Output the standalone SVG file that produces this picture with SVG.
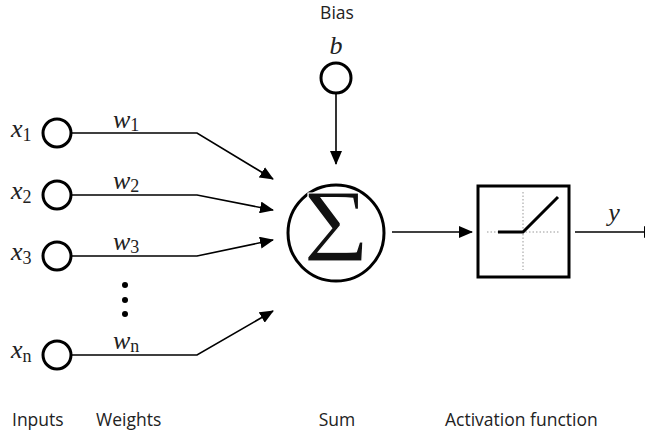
<svg xmlns="http://www.w3.org/2000/svg" width="645" height="435" viewBox="0 0 645 435">
  <style>
    .node { fill: #fff; stroke: #000; stroke-width: 3; }
    .wire { fill: none; stroke: #000; stroke-width: 1.6; }
    .math { font-family: "Liberation Serif", "DejaVu Serif", serif; font-style: italic; font-size: 26px; fill: #222; }
    .sub { font-style: normal; font-size: 18px; }
    .cap { font-family: "Open Sans", "Noto Sans", sans-serif; font-size: 17.5px; fill: #222; }
  </style>
  <defs>
    <marker id="arrow" markerUnits="userSpaceOnUse" markerWidth="14" markerHeight="12" viewBox="0 0 14 12" refX="13" refY="6" orient="auto">
      <path d="M0,0 L14,6 L0,12 Z" fill="#000"/>
    </marker>
  </defs>

  <rect width="645" height="435" fill="#fff"/>

  <!-- connectors -->
  <g id="connectors">
    <polyline class="wire" points="72,133 197,133 273,179" marker-end="url(#arrow)"/>
    <polyline class="wire" points="72,195 197,195 273,210" marker-end="url(#arrow)"/>
    <polyline class="wire" points="72,256 197,256 273,240" marker-end="url(#arrow)"/>
    <polyline class="wire" points="72,355 197,355 273,311" marker-end="url(#arrow)"/>
    <line class="wire" x1="336" y1="93" x2="336" y2="164" marker-end="url(#arrow)"/>
    <line class="wire" x1="392" y1="232" x2="472" y2="232" marker-end="url(#arrow)"/>
    <line class="wire" x1="575" y1="232" x2="657" y2="232" marker-end="url(#arrow)"/>
  </g>

  <!-- inputs -->
  <g id="input-x1">
    <circle class="node" cx="57" cy="133" r="14"/>
    <text class="math" x="11" y="137">x<tspan class="sub" dy="4">1</tspan></text>
  </g>
  <g id="input-x2">
    <circle class="node" cx="57" cy="195" r="14"/>
    <text class="math" x="11" y="199">x<tspan class="sub" dy="4">2</tspan></text>
  </g>
  <g id="input-x3">
    <circle class="node" cx="57" cy="256" r="14"/>
    <text class="math" x="11" y="260">x<tspan class="sub" dy="4">3</tspan></text>
  </g>
  <g id="input-xn">
    <circle class="node" cx="57" cy="355" r="14"/>
    <text class="math" x="11" y="358">x<tspan class="sub" dy="4" font-style="italic">n</tspan></text>
  </g>

  <!-- ellipsis between inputs -->
  <g id="ellipsis" fill="#000">
    <circle cx="125" cy="285" r="3"/>
    <circle cx="125" cy="300" r="3"/>
    <circle cx="125" cy="314" r="3"/>
  </g>

  <!-- weights -->
  <g id="weights">
    <text class="math" x="113" y="128">w<tspan class="sub" dy="3">1</tspan></text>
    <text class="math" x="113" y="189">w<tspan class="sub" dy="3">2</tspan></text>
    <text class="math" x="113" y="250">w<tspan class="sub" dy="3">3</tspan></text>
    <text class="math" x="113" y="349">w<tspan class="sub" dy="3" font-style="italic">n</tspan></text>
  </g>

  <!-- bias -->
  <g id="bias">
    <text class="cap" x="337" y="19" text-anchor="middle">Bias</text>
    <text class="math" x="336" y="54" text-anchor="middle">b</text>
    <circle class="node" cx="336" cy="78" r="15"/>
  </g>

  <!-- summation -->
  <g id="sum">
    <circle class="node" cx="336" cy="233" r="48" stroke-width="4"/>
    <text x="336" y="261" text-anchor="middle" font-family="Liberation Serif, DejaVu Serif, serif" font-size="104" fill="#111" stroke="#fff" stroke-width="1.2" transform="translate(336 261) scale(1.08 1) translate(-336 -261)">Σ</text>
  </g>

  <!-- activation function -->
  <g id="activation">
    <rect x="478" y="186" width="91" height="91" fill="#fff" stroke="#000" stroke-width="3"/>
    <line x1="523" y1="192" x2="523" y2="270" stroke="#999" stroke-width="1" stroke-dasharray="1.5,2"/>
    <line x1="487" y1="232" x2="560" y2="232" stroke="#999" stroke-width="1" stroke-dasharray="1.5,2"/>
    <polyline points="498,232 523,232 558,197" fill="none" stroke="#000" stroke-width="3"/>
  </g>

  <!-- output -->
  <g id="output">
    <text class="math" x="614" y="221" text-anchor="middle">y</text>
  </g>

  <!-- captions -->
  <g id="captions">
    <text class="cap" x="12" y="426">Inputs</text>
    <text class="cap" x="96" y="426">Weights</text>
    <text class="cap" x="337" y="426" text-anchor="middle">Sum</text>
    <text class="cap" x="445" y="426">Activation function</text>
  </g>
</svg>
